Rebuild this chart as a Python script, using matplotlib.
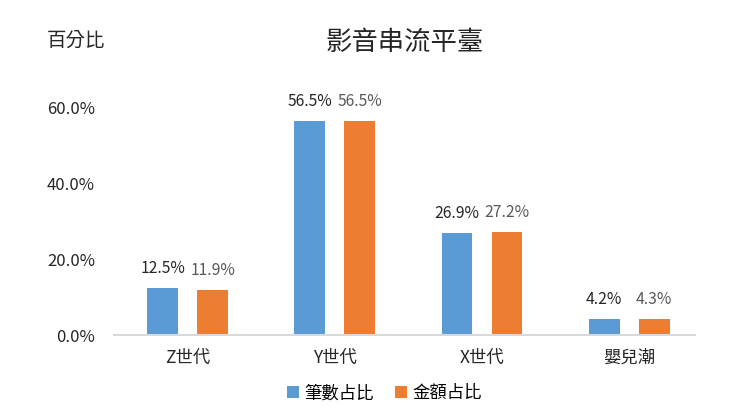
import matplotlib.pyplot as plt
import numpy as np

plt.rcParams['font.family'] = ['Noto Sans CJK TC', 'DejaVu Sans']

categories = ['Z世代', 'Y世代', 'X世代', '嬰兒潮']
count_share = [12.5, 56.5, 26.9, 4.2]
amount_share = [11.9, 56.5, 27.2, 4.3]
series_labels = ['筆數占比', '金額占比']
y_ticks = [0, 20, 40, 60]

blue = '#5B9BD5'
orange = '#ED7D31'

fig = plt.figure(figsize=(7.42, 4.2), dpi=100)
ax = fig.add_axes([0.154, 0.202, 0.783, 0.541])

x = np.arange(len(categories))
width = 0.21
off = 0.17
b1 = ax.bar(x - off, count_share, width, color=blue, label=series_labels[0])
b2 = ax.bar(x + off, amount_share, width, color=orange, label=series_labels[1])

# value labels above each bar
for bars, vals, col in [(b1, count_share, '#262626'), (b2, amount_share, '#595959')]:
    for rect, v in zip(bars, vals):
        ax.annotate('%.1f%%' % v, (rect.get_x() + rect.get_width() / 2, v),
                    xytext=(0, 8), textcoords='offset points', ha='center', va='bottom',
                    fontsize=11.3, color=col, annotation_clip=False)

ax.set_xlim(-0.5, 3.45)
ax.set_ylim(0, 60)
ax.set_yticks(y_ticks)
ax.set_yticklabels(['%.1f%%' % t for t in y_ticks], fontsize=12, color='#262626')
ax.set_xticks(x)
ax.set_xticklabels(categories, fontsize=12.5, color='#262626')
ax.tick_params(axis='y', length=0, pad=14)
ax.tick_params(axis='x', length=0, pad=10)

for s in ['top', 'right', 'left']:
    ax.spines[s].set_visible(False)
ax.spines['bottom'].set_color('#D9D9D9')
ax.spines['bottom'].set_linewidth(1.5)

fig.text(0.545, 0.9, '影音串流平臺', ha='center', va='center', fontsize=19, color='#262626')
fig.text(0.063, 0.905, '百分比', ha='left', va='center', fontsize=14, color='#262626')

fig.legend(handles=[b1, b2], loc='center', bbox_to_anchor=(0.518, 0.064), ncol=2,
           frameon=False, fontsize=12.5, handlelength=0.7, handleheight=0.7,
           handletextpad=0.3, columnspacing=1.2)

fig.savefig('out.png', dpi=100)
